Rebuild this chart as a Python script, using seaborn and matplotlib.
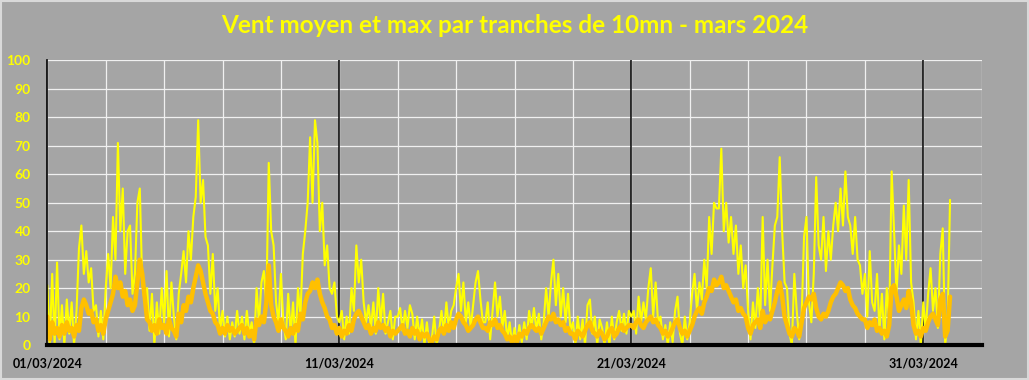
import matplotlib
matplotlib.use("Agg")
import matplotlib.pyplot as plt
import numpy as np
import pandas as pd
import seaborn as sns

# rafales max, une valeur toutes les 2 h (12 par jour), 01/03 -> 31/03
vent_max = [
    21, 0, 25, 0, 29, 2, 14, 0, 16, 4, 15, 0,
    12, 34, 42, 25, 33, 22, 27, 12, 14, 3, 12, 2,
    20, 32, 20, 45, 30, 71, 40, 55, 25, 40, 42, 18,
    25, 50, 55, 22, 15, 20, 5, 18, 0, 15, 4, 20,
    8, 26, 3, 22, 10, 2, 18, 25, 33, 22, 40, 30,
    45, 52, 79, 50, 58, 38, 35, 18, 32, 12, 20, 5,
    12, 3, 10, 2, 8, 3, 12, 4, 10, 2, 12, 4,
    8, 0, 20, 8, 22, 26, 14, 64, 40, 35, 15, 8,
    25, 8, 2, 18, 4, 15, 0, 20, 10, 32, 40, 50,
    73, 50, 79, 71, 40, 50, 28, 35, 20, 18, 22, 10,
    8, 12, 2, 10, 4, 20, 12, 35, 22, 30, 15, 8,
    14, 6, 15, 4, 20, 8, 18, 4, 8, 12, 2, 10,
    10, 13, 5, 12, 6, 14, 11, 2, 10, 3, 9, 0,
    8, 0, 2, 10, 0, 5, 12, 4, 15, 6, 12, 14,
    20, 25, 12, 22, 8, 15, 6, 14, 22, 26, 16, 8,
    8, 15, 2, 12, 22, 10, 17, 6, 12, 2, 8, 0,
    6, 0, 7, 1, 8, 2, 12, 6, 13, 5, 11, 2,
    8, 20, 10, 22, 30, 14, 25, 10, 20, 8, 18, 5,
    8, 0, 10, 2, 9, 0, 14, 16, 4, 10, 0, 9,
    6, 0, 8, 0, 10, 2, 8, 12, 5, 11, 4, 12,
    10, 12, 4, 17, 8, 15, 9, 20, 27, 10, 22, 8,
    10, 2, 7, 0, 8, 1, 12, 17, 4, 0, 10, 2,
    8, 18, 25, 12, 22, 16, 30, 20, 45, 32, 50, 48,
    48, 69, 40, 50, 36, 45, 32, 42, 25, 35, 20, 28,
    12, 2, 15, 6, 20, 8, 45, 14, 30, 12, 28, 42,
    45, 66, 40, 22, 20, 4, 0, 25, 12, 2, 10, 38,
    45, 15, 8, 25, 59, 35, 30, 45, 26, 40, 30, 42,
    50, 40, 55, 42, 61, 45, 42, 32, 45, 30, 28, 18,
    25, 10, 33, 15, 12, 25, 5, 18, 2, 20, 8, 61,
    40, 18, 35, 25, 49, 30, 58, 22, 15, 2, 12, 0,
    15, 5, 18, 27, 12, 20, 6, 32, 41, 0, 8, 51,
]

# vent moyen, meme pas de temps
vent_moyen = [
    10, 2, 8, 4, 6, 3, 7, 4, 8, 5, 6, 3,
    7, 5, 13, 16, 14, 11, 12, 8, 9, 5, 7, 4,
    9, 12, 15, 18, 24, 20, 22, 17, 19, 14, 16, 12,
    14, 22, 30, 25, 17, 9, 8, 5, 7, 4, 9, 6,
    7, 4, 9, 6, 5, 3, 11, 8, 14, 12, 17, 15,
    20, 24, 28, 26, 22, 18, 15, 12, 11, 8, 7, 4,
    6, 4, 7, 5, 6, 4, 5, 6, 7, 4, 6, 3,
    5, 2, 9, 7, 10, 8, 15, 28, 14, 10, 8, 5,
    9, 6, 5, 3, 6, 4, 7, 5, 11, 9, 15, 18,
    19, 22, 20, 23, 18, 15, 13, 10, 9, 6, 7, 4,
    6, 3, 5, 4, 7, 5, 9, 11, 12, 10, 8, 6,
    7, 4, 6, 5, 8, 6, 7, 5, 6, 3, 5, 4,
    5, 6, 7, 4, 5, 3, 6, 4, 5, 2, 4, 3,
    4, 2, 1, 3, 2, 5, 6, 4, 7, 5, 8, 6,
    9, 11, 10, 8, 7, 5, 6, 7, 9, 10, 8, 6,
    6, 5, 8, 7, 9, 6, 7, 5, 4, 2, 3, 1,
    3, 1, 4, 3, 5, 4, 6, 7, 6, 5, 6, 4,
    6, 8, 10, 9, 11, 8, 9, 7, 8, 5, 6, 4,
    4, 2, 5, 4, 3, 5, 7, 8, 5, 4, 3, 5,
    4, 2, 3, 5, 6, 3, 4, 6, 7, 5, 6, 7,
    7, 6, 8, 9, 7, 6, 8, 9, 10, 8, 9, 7,
    6, 4, 5, 3, 4, 6, 8, 9, 6, 4, 5, 3,
    5, 7, 10, 12, 13, 11, 15, 17, 20, 19, 23, 21,
    22, 24, 20, 21, 19, 17, 15, 16, 12, 13, 11, 10,
    6, 4, 7, 8, 9, 6, 12, 8, 10, 9, 12, 15,
    19, 22, 17, 10, 7, 4, 3, 6, 5, 3, 8, 13,
    15, 17, 16, 18, 13, 10, 9, 11, 10, 12, 15, 17,
    18, 20, 22, 21, 19, 20, 16, 14, 13, 11, 10, 9,
    9, 6, 8, 7, 9, 5, 6, 4, 5, 3, 7, 20,
    21, 17, 12, 14, 16, 13, 19, 15, 7, 4, 5, 3,
    6, 5, 8, 10, 11, 9, 7, 16, 18, 3, 5, 17,
]

date_labels = ["01/03/2024", "11/03/2024", "21/03/2024", "31/03/2024"]

df = pd.DataFrame({
    "date": pd.date_range("2024-03-01", periods=len(vent_max), freq="2h"),
    "max": vent_max,
    "moyen": vent_moyen,
})

bg = "#A5A5A5"
sns.set_style("white", {"axes.facecolor": bg, "figure.facecolor": bg})
plt.rcParams["font.family"] = ["Lato", "DejaVu Sans"]

fig = plt.figure(figsize=(10.29, 3.8), dpi=100)
ax = fig.add_axes([0.046, 0.092, 0.908, 0.749])
ax.set_facecolor(bg)

sns.lineplot(data=df, x="date", y="max", ax=ax, color="#FFFF00",
             linewidth=1.5, zorder=3)
sns.lineplot(data=df, x="date", y="moyen", ax=ax, color="#FFC000",
             linewidth=3.2, zorder=4)

x0 = pd.Timestamp("2024-03-01")
ax.set_xlim(x0, pd.Timestamp("2024-04-02"))
ax.set_ylim(0, 100)

# grille
ax.set_yticks(np.arange(0, 101, 10))
ax.set_xticks(pd.date_range(x0, periods=17, freq="2D"))
ax.grid(True, color="#F0F0F0", linewidth=0.9, zorder=1)
ax.set_axisbelow(True)
for lab in date_labels[1:]:
    ax.axvline(pd.to_datetime(lab, dayfirst=True), color="black",
               linewidth=1.1, zorder=2)

ax.set_xticklabels([])
ax.tick_params(length=0)
for lab in date_labels:
    ax.text(pd.to_datetime(lab, dayfirst=True), -4.5, lab, ha="center", va="top",
            fontsize=9, fontweight="bold", color="black")

ax.tick_params(axis="y", labelcolor="#FFFF00", labelsize=10, pad=12)
for t in ax.get_yticklabels():
    t.set_fontweight("bold")

ax.set_xlabel("")
ax.set_ylabel("")
for s in ["top", "right"]:
    ax.spines[s].set_visible(False)
ax.spines["left"].set_color("black")
ax.spines["left"].set_linewidth(1.2)
ax.spines["bottom"].set_color("black")
ax.spines["bottom"].set_linewidth(3)
ax.spines["left"].set_zorder(5)
ax.spines["bottom"].set_zorder(5)

fig.text(0.5, 0.932, "Vent moyen et max par tranches de 10mn - mars 2024",
         ha="center", va="center", fontsize=17.5, fontweight="bold", color="#FFFF00")

# cadre clair autour de l'image
fig.patches.append(plt.Rectangle((0.001, 0.002), 0.998, 0.996, transform=fig.transFigure,
                                 fill=False, edgecolor="#D9D9D9", linewidth=1.5))

fig.savefig("out.png", dpi=100, facecolor=bg)
plt.close(fig)
